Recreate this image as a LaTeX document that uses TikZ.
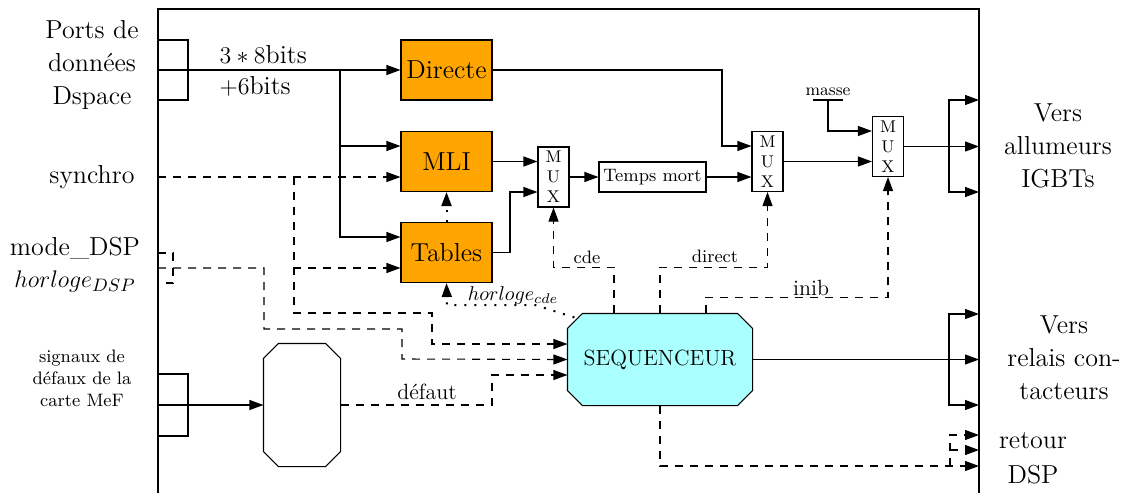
\documentclass[tikz,border=0pt]{standalone}
\usepackage{fontspec}
\usetikzlibrary{arrows.meta,backgrounds}
\definecolor{blocorange}{RGB}{255,165,0}
\definecolor{seqcyan}{RGB}{170,255,255}
% octogone autour d'un noeud : #1 remplissage, #2 nom du noeud
\newcommand{\chanfrein}[2][white]{%
  \draw[fill=#1, line width=0.55pt] ([xshift=7.5pt]#2.north west) -- ([xshift=-7.5pt]#2.north east)
    -- ([yshift=-7.5pt]#2.north east) -- ([yshift=7.5pt]#2.south east)
    -- ([xshift=-7.5pt]#2.south east) -- ([xshift=7.5pt]#2.south west)
    -- ([yshift=7.5pt]#2.south west) -- ([yshift=-7.5pt]#2.north west) -- cycle;}
\tikzset{
  fleche/.style={-{Triangle[length=7pt,width=5pt]}},
  tirets/.style={dash pattern=on 4pt off 3.5pt},
  pointille/.style={line width=1pt, dash pattern=on 1pt off 4pt},
  bloc/.style={draw, fill=blocorange, minimum width=45.5pt, minimum height=30pt, inner sep=0pt, font=\fontsize{13}{16}\selectfont},
  mux/.style={draw, fill=white, minimum width=15.5pt, minimum height=30pt, inner sep=0pt, align=center, font=\fontsize{8.5}{10}\selectfont},
  grand/.style={align=center, inner sep=0pt, font=\fontsize{13}{16.5}\selectfont},
  moyen/.style={inner sep=0pt, font=\fontsize{11}{13}\selectfont},
  petit/.style={align=center, inner sep=0pt, font=\fontsize{9}{11}\selectfont},
}
\begin{document}
\begin{tikzpicture}[x=0.5pt, y=-0.5pt, line width=0.55pt]
  \useasboundingbox (0,0) rectangle (1127,493);
  % Cadre de la carte
  \draw (158,493) -- (158,9) -- (979,9) -- (979,493);

  % Blocs
  \node[bloc] (directe) at (446.5,70) {Directe};
  \node[bloc] (mli) at (446.5,161.5) {MLI};
  \node[bloc] (tables) at (446.5,252.5) {Tables};
  \node[mux] (mux1) at (553.5,177) {M\\U\\X};
  \node[draw, petit, minimum width=53.5pt, minimum height=15pt] (tmort) at (652.5,177) {Temps mort};
  \node[mux] (mux2) at (767.5,161.5) {M\\U\\X};
  \node[mux] (mux3) at (888,146.5) {M\\U\\X};
  \node[minimum width=92pt, minimum height=45.5pt, inner sep=0pt, font=\fontsize{11}{13}\selectfont] (seq) at (660,359.5) {SEQUENCEUR};
  \node[minimum width=38pt, minimum height=61pt, inner sep=0pt] (filtre) at (302,405) {};
  \begin{scope}[on background layer]
    \chanfrein[seqcyan]{seq}
    \chanfrein{filtre}
  \end{scope}

  % Textes exterieurs
  \node[grand] (lports) at (92,65) {Ports de\\données\\Dspace};
  \node[grand] (lsynchro) at (92,177) {synchro};
  \node[grand] (lmode) at (75,248) {mode\_DSP};
  \node[grand] (lhorl) at (75,281) {$horloge_{DSP}$};
  \node[petit] (lsign) at (82,378) {signaux de\\défaux de la\\carte MeF};
  \node[grand] (ligbt) at (1058,146) {Vers\\allumeurs\\IGBTs};
  \node[grand] (lrelais) at (1064,358) {Vers\\relais con-\\tacteurs};
  \node[grand, font=\fontsize{13}{17.5}\selectfont] (lretour) at (1033,458) {retour\\DSP};

  % Bus de donnees
  \coordinate (ports) at (158,70);
  \coordinate (bus) at (340,70);
  \draw (158,40) -| (188,100) -- (158,100);
  \draw[fleche] (ports) -- (directe.west);
  \draw[fleche] (bus) |- ([yshift=7.75pt]mli.west);
  \draw[fleche] (bus) |- ([yshift=7.75pt]tables.west);
  \node[grand, anchor=west] (bits) at (219,55) {$3*8$bits};
  \node[grand, anchor=west] (bits2) at (219,86) {$+6$bits};

  % Synchro et horloge
  \coordinate (synchro) at (158,177);
  \coordinate (mode) at (158,253);
  \coordinate (horl) at (158,268);
  \draw[tirets, fleche] (synchro) -- ([yshift=-7.75pt]mli.west);
  \draw[tirets, fleche] (294,177) |- ([yshift=-7.75pt]tables.west);
  \draw[tirets, fleche] (294,177) -- (294,313) -| (432,344) -- ([yshift=7.75pt]seq.west);
  \draw[tirets, fleche] (horl) -| (264,329) -| (402,359) -- (seq.west);
  \draw[tirets] (mode) -| (173,283) -- (166,283);

  % Defauts
  \coordinate (sign) at (158,405);
  \draw (158,374) -| (188,436) -- (158,436);
  \draw[fleche] (sign) -- (filtre.west);
  \draw[tirets, fleche] (filtre.east) -| (492,375) -- ([yshift=-7.75pt]seq.west);
  \node[moyen] (ldefaut) at (427,392) {défaut};

  % Horloge de commande
  \draw[pointille, fleche] ([xshift=3.5pt,yshift=-2pt]seq.north west) -- (535,305) -- (447,305) -- (tables.south);
  \draw[pointille, fleche] (tables.north) -- (mli.south);
  \node[inner sep=0pt, font=\fontsize{10}{12}\selectfont] (lhcde) at (513,295) {$horloge_{cde}$};

  % Chaine des MUX
  \draw[fleche] (mli.east) -- (mli.east -| mux1.west);
  \draw[fleche] (tables.east) -- (510,252.5) |- ([yshift=-7.5pt]mux1.west);
  \draw[fleche] (mux1.east) -- (tmort.west);
  \draw[fleche] (tmort.east) -- (tmort.east -| mux2.west);
  \draw[fleche] (directe.east) -- (722,70) |- ([yshift=7.75pt]mux2.west);
  \draw[fleche] (mux2.east) -- (mux2.east -| mux3.west);
  \draw (813,100) -- (843,100);
  \node[petit, anchor=south, font=\fontsize{8.5}{10}\selectfont] (lmasse) at (828,96) {masse};
  \draw[fleche] (828,100) |- ([yshift=7.75pt]mux3.west);
  \coordinate (igbt) at (979,146.5);
  \draw[fleche] (mux3.east) -- (igbt);
  \foreach \y in {100,192} \draw[fleche] (949,146.5) |- (979,\y);

  % Commandes du sequenceur
  \draw[tirets, fleche] ([xshift=-23pt]seq.north) -- ++(0,-46) -| (mux1.south);
  \draw[tirets, fleche] (seq.north) -- ++(0,-46) -| (mux2.south);
  \draw[tirets, fleche] ([xshift=23pt]seq.north) -- ++(0,-16) -| (mux3.south);
  \node[petit] (lcde) at (587,257) {cde};
  \node[petit] (ldirect) at (715,256) {direct};
  \node[moyen] (linib) at (811,288) {inib};

  % Sorties
  \coordinate (relais) at (979,359.5);
  \draw[fleche] (seq.east) -- (relais);
  \foreach \y in {314,405} \draw[fleche] (949,359.5) |- (979,\y);
  \coordinate (retour) at (979,466);
  \draw[tirets, fleche] (seq.south) |- (retour);
  \draw[tirets, fleche] (950,466) |- (979,435);
  \draw[tirets, fleche] (950,450) -- (979,450);
\end{tikzpicture}
\end{document}
